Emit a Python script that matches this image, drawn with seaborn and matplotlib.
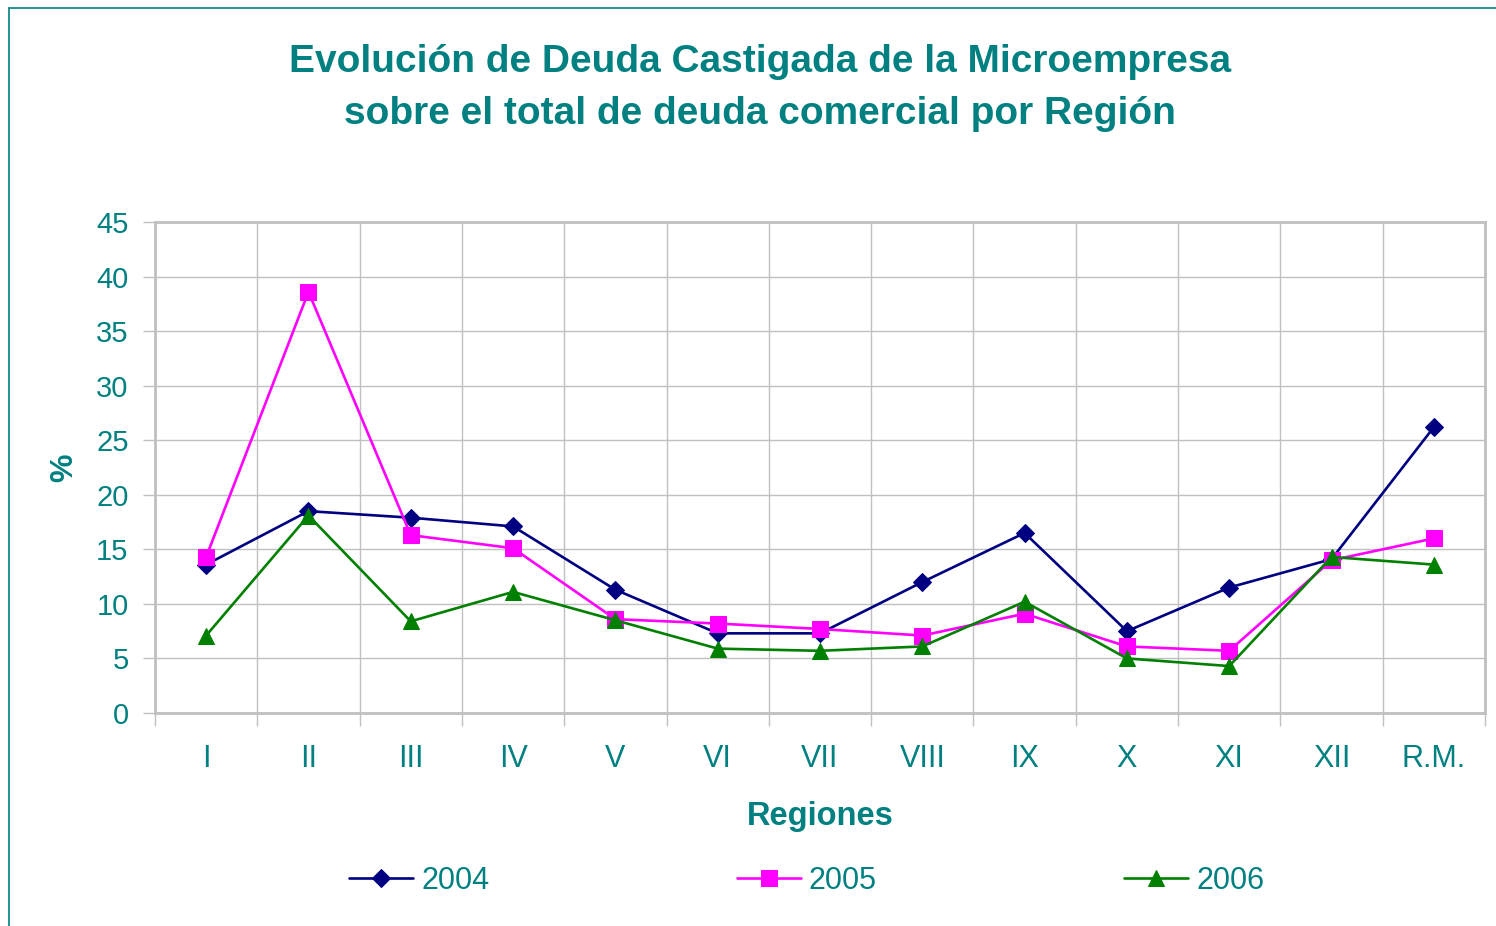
import numpy as np
import pandas as pd
import matplotlib.pyplot as plt
import seaborn as sns

# data
regiones = ['I', 'II', 'III', 'IV', 'V', 'VI', 'VII', 'VIII', 'IX', 'X', 'XI', 'XII', 'R.M.']
y2004 = [13.6, 18.5, 17.9, 17.1, 11.3, 7.3, 7.3, 12.0, 16.5, 7.5, 11.5, 14.1, 26.2]
y2005 = [14.3, 38.6, 16.3, 15.1, 8.6, 8.2, 7.7, 7.1, 9.1, 6.1, 5.7, 14.0, 16.0]
y2006 = [7.1, 18.1, 8.4, 11.1, 8.5, 5.9, 5.7, 6.1, 10.2, 5.0, 4.3, 14.3, 13.6]
years = ['2004', '2005', '2006']

df = pd.DataFrame({
    'pos': list(range(len(regiones))) * 3,
    'valor': y2004 + y2005 + y2006,
    'anio': [a for a in years for _ in regiones],
})

teal = '#008080'
colores = {'2004': '#000080', '2005': '#FF00FF', '2006': '#008000'}
marcas = {'2004': 'D', '2005': 's', '2006': '^'}
tam = {'2004': 9.5, '2005': 12, '2006': 12}

sns.set_style('white')
plt.rcParams['font.family'] = ['Liberation Sans', 'DejaVu Sans']

W, H = 1496, 926
fig = plt.figure(figsize=(W / 100, H / 100), dpi=100)
ax = fig.add_axes([155 / W, 1 - 713 / H, (1485 - 155) / W, (713 - 222) / H])

for a in years:
    sub = df[df['anio'] == a]
    sns.lineplot(data=sub, x='pos', y='valor', ax=ax, color=colores[a], marker=marcas[a],
                 markersize=tam[a], markeredgecolor=colores[a], linewidth=1.9, label=a)

ax.set_xlim(-0.5, len(regiones) - 0.5)
ax.set_ylim(0, 45)
ax.set_yticks(np.arange(0, 46, 5))
ax.set_xticks(range(len(regiones)))
ax.set_xticklabels(regiones)
ax.set_xticks(np.arange(-0.5, len(regiones), 1), minor=True)

ax.grid(True, which='major', axis='y', color='#C0C0C0', linewidth=1)
ax.grid(True, which='minor', axis='x', color='#C0C0C0', linewidth=1)
ax.set_axisbelow(True)
for s in ax.spines.values():
    s.set_color('#C0C0C0')
    s.set_linewidth(2)

ax.tick_params(axis='x', which='major', length=0, pad=22, labelsize=22, labelcolor=teal)
ax.tick_params(axis='x', which='minor', length=9, width=1, color='#C0C0C0', direction='out', bottom=True)
ax.tick_params(axis='y', length=9, width=1, color='#C0C0C0', direction='out', left=True, pad=10,
               labelsize=21, labelcolor=teal)

ax.set_xlabel('Regiones', fontsize=23.5, fontweight='bold', color=teal, labelpad=20)
ax.set_ylabel('%', fontsize=23, fontweight='bold', color=teal, labelpad=12)

fig.text(760 / W, 1 - 88 / H,
         'Evolución de Deuda Castigada de la Microempresa\nsobre el total de deuda comercial por Región',
         fontsize=28, fontweight='bold', color=teal, ha='center', va='center', linespacing=1.55)

leg = ax.legend(loc='center', bbox_to_anchor=(0.49, -0.342), ncol=3, frameon=False,
                fontsize=22, columnspacing=8.1, handlelength=2.1, handletextpad=0.26)
for t in leg.get_texts():
    t.set_color(teal)

# frame lines at the left and top
fig.add_artist(plt.Line2D([9 / W, 9 / W], [0, 1 - 8 / H], color=teal, linewidth=1.2,
                          transform=fig.transFigure))
fig.add_artist(plt.Line2D([9 / W, 1], [1 - 8 / H, 1 - 8 / H], color=teal, linewidth=1.2,
                          transform=fig.transFigure))

fig.savefig('out.png', dpi=100)
